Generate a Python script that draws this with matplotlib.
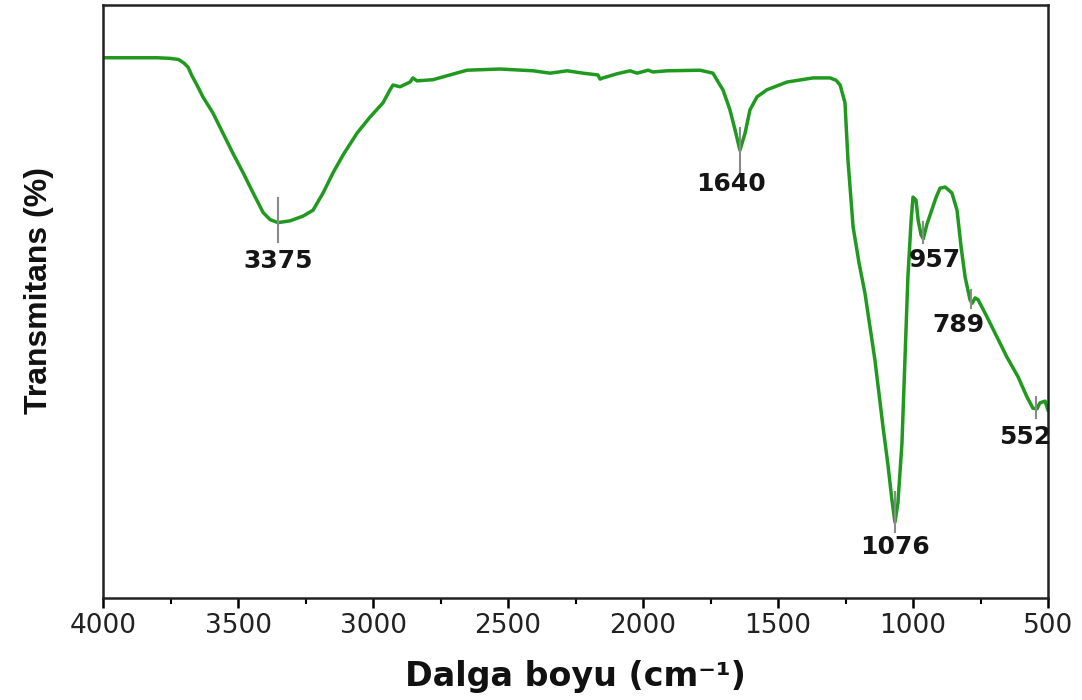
import matplotlib.pyplot as plt
from matplotlib.ticker import MultipleLocator

plt.rcParams['font.family'] = ['DejaVu Sans']

# FTIR spektrumu
wavenumber = [4000, 3900, 3800, 3752, 3720, 3700, 3685, 3670, 3652, 3630, 3593, 3556, 3519,
              3481, 3444, 3407, 3381, 3352, 3307, 3259, 3222, 3185, 3148, 3111, 3059, 3011,
              2963, 2937, 2926, 2900, 2863, 2852, 2837, 2778, 2652, 2530, 2407, 2344, 2281,
              2222, 2167, 2159, 2148, 2096, 2048, 2022, 1981, 1963, 1911, 1789, 1741, 1715,
              1704, 1678, 1659, 1641, 1622, 1604, 1578, 1541, 1467, 1370, 1307, 1285, 1270,
              1252, 1241, 1222, 1200, 1178, 1141, 1111, 1093, 1078, 1067, 1056, 1041, 1030,
              1019, 1007, 1000, 989, 981, 970, 962, 948, 930, 915, 900, 881, 856, 837, 822,
              807, 789, 781, 770, 759, 726, 689, 652, 611, 578, 556, 541, 530, 511, 500]
transmitans = [91.1, 91.1, 91.1, 91.0, 90.8, 90.2, 89.5, 88.0, 86.5, 84.5, 81.8, 78.4, 75.0,
               71.7, 68.3, 65.0, 63.8, 63.3, 63.6, 64.4, 65.4, 68.3, 71.7, 74.7, 78.4, 81.1,
               83.5, 85.7, 86.5, 86.2, 87.0, 87.7, 87.2, 87.4, 89.0, 89.2, 88.9, 88.5, 88.9,
               88.5, 88.2, 87.5, 87.7, 88.4, 88.9, 88.5, 89.0, 88.7, 88.9, 89.0, 88.5, 86.5,
               85.7, 82.3, 78.9, 75.5, 78.4, 82.3, 84.5, 85.7, 87.0, 87.7, 87.7, 87.3, 86.5,
               83.5, 73.9, 62.6, 56.5, 51.4, 40.1, 28.8, 22.5, 16.5, 12.8, 16.0, 26.1, 40.1,
               54.1, 63.7, 67.6, 67.1, 63.7, 61.2, 60.6, 63.1, 65.5, 67.5, 69.1, 69.3, 68.3,
               65.4, 59.2, 54.1, 50.3, 49.7, 50.6, 50.3, 47.4, 44.0, 40.6, 37.3, 33.9, 32.0,
               31.9, 32.9, 33.2, 31.7]

# pik etiketleri
peak_labels = ['3375', '1640', '1076', '957', '789', '552']
peak_pos = [3352, 1641, 1067, 963, 785, 546]
peak_tick_lo = [60.0, 71.8, 11.1, 59.9, 48.9, 30.4]
peak_tick_hi = [67.5, 79.3, 17.9, 63.4, 51.9, 33.9]
label_x = [3352, 1674, 1067, 919, 833, 585]
label_y = [56.8, 69.8, 8.6, 57.0, 46.0, 27.2]

fig = plt.figure(figsize=(10.82, 7.0), dpi=100)
ax = fig.add_axes([0.0952, 0.1457, 0.8734, 0.8472])

ax.plot(wavenumber, transmitans, color='#1f9a1f', lw=2.5, solid_joinstyle='round')

for i in range(len(peak_labels)):
    ax.plot([peak_pos[i], peak_pos[i]], [peak_tick_lo[i], peak_tick_hi[i]],
            color='#8a8a8a', lw=1.5)
    ax.text(label_x[i], label_y[i], peak_labels[i], ha='center', va='center',
            fontsize=18, fontweight='bold', color='#151515')

ax.set_xlim(4000, 500)
ax.set_ylim(0, 100)
ax.xaxis.set_major_locator(MultipleLocator(500))
ax.xaxis.set_minor_locator(MultipleLocator(250))
ax.tick_params(axis='x', which='major', direction='out', length=7, width=1.8,
               labelsize=19, pad=4, labelcolor='#222222')
ax.tick_params(axis='x', which='minor', direction='out', length=4.5, width=1.5)
ax.set_yticks([])
for s in ax.spines.values():
    s.set_linewidth(1.8)
    s.set_color('#222222')

ax.set_xlabel('Dalga boyu (cm⁻¹)', fontsize=24, fontweight='bold', color='#111111')
ax.xaxis.set_label_coords(0.5, -0.105)
ax.set_ylabel('Transmitans (%)', fontsize=23, fontweight='bold', color='#111111',
              family=['Liberation Sans', 'DejaVu Sans'])
ax.yaxis.set_label_coords(-0.052, 0.519)

plt.savefig('out.png', dpi=100)
